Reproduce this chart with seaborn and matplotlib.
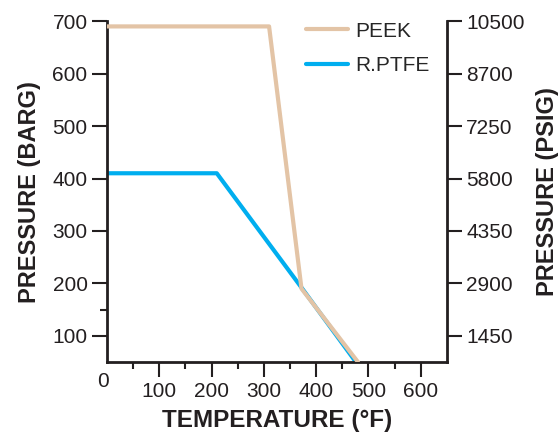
import matplotlib
matplotlib.use("Agg")
import matplotlib.pyplot as plt
import matplotlib.transforms as mtransforms
import pandas as pd
import seaborn as sns

# data
peek_temp = [0, 310, 372, 480]
peek_press = [690, 690, 190, 50]
ptfe_temp = [0, 210, 372, 476]
ptfe_press = [410, 410, 192, 50]

barg_ticks = [100, 200, 300, 400, 500, 600, 700]
psig_labels = ["1450", "2900", "4350", "5800", "7250", "8700", "10500"]
temp_ticks = [100, 200, 300, 400, 500, 600]

colors = {"PEEK": "#e3c4a6", "R.PTFE": "#00aeef"}


def draw():
    sns.set_style("ticks")
    plt.rcParams["font.family"] = ["Liberation Sans", "DejaVu Sans"]

    data = pd.concat([
        pd.DataFrame({"temp": peek_temp, "press": peek_press, "material": "PEEK"}),
        pd.DataFrame({"temp": ptfe_temp, "press": ptfe_press, "material": "R.PTFE"}),
    ])

    fig = plt.figure(figsize=(5.6, 4.41), dpi=100)
    ax = fig.add_axes([0.191, 0.179, 0.607, 0.773])

    # PTFE first so PEEK sits on top where they overlap
    sns.lineplot(data=data[data["material"] == "R.PTFE"], x="temp", y="press",
                 color=colors["R.PTFE"], lw=3, ax=ax, label="R.PTFE", zorder=2)
    sns.lineplot(data=data[data["material"] == "PEEK"], x="temp", y="press",
                 color=colors["PEEK"], lw=3, ax=ax, label="PEEK", zorder=3)

    ax.set_xlim(0, 650)
    ax.set_ylim(50, 700)

    ax.set_xticks(temp_ticks)
    ax.set_xticks([50, 150, 250, 350, 450, 550], minor=True)
    ax.set_yticks(barg_ticks)
    ax.set_yticks([150], minor=True)

    ax.tick_params(axis="both", which="major", labelsize=15, length=11, width=1.5,
                   color="#231f20", labelcolor="#231f20", pad=3)
    ax.tick_params(axis="both", which="minor", length=5, width=1.5, color="#231f20")

    for side in ["left", "bottom"]:
        ax.spines[side].set_linewidth(2)
        ax.spines[side].set_color("#231f20")
    ax.spines["top"].set_visible(False)
    ax.spines["right"].set_visible(False)

    ax.set_xlabel("TEMPERATURE (°F)", fontsize=17.5, fontweight="bold", color="#231f20", labelpad=6)
    ax.set_ylabel("PRESSURE (BARG)", fontsize=17, fontweight="bold", color="#231f20", labelpad=8)

    # corner zero label
    trans = mtransforms.blended_transform_factory(ax.transData, ax.transAxes)
    ax.text(-8, -0.03, "0", transform=trans, ha="center", va="top", fontsize=15, color="#231f20")

    # right axis in psig
    ax2 = ax.twinx()
    ax2.set_ylim(ax.get_ylim())
    ax2.set_yticks(barg_ticks)
    ax2.set_yticklabels(psig_labels)
    ax2.tick_params(axis="y", labelsize=15, length=11, width=1.5,
                    color="#231f20", labelcolor="#231f20", pad=3)
    for side in ["left", "bottom", "top"]:
        ax2.spines[side].set_visible(False)
    ax2.spines["right"].set_linewidth(2)
    ax2.spines["right"].set_color("#231f20")
    ax2.set_ylabel("PRESSURE (PSIG)", fontsize=17, fontweight="bold", color="#231f20", labelpad=8)

    handles, labels = ax.get_legend_handles_labels()
    ax.legend(handles[::-1], labels[::-1], loc="upper right", frameon=False,
              fontsize=15, handlelength=2.0, handletextpad=0.35, labelspacing=0.75,
              borderaxespad=0.2, bbox_to_anchor=(0.985, 1.035))

    plt.savefig("out.png", dpi=100)


def main():
    draw()


if __name__ == "__main__":
    main()
